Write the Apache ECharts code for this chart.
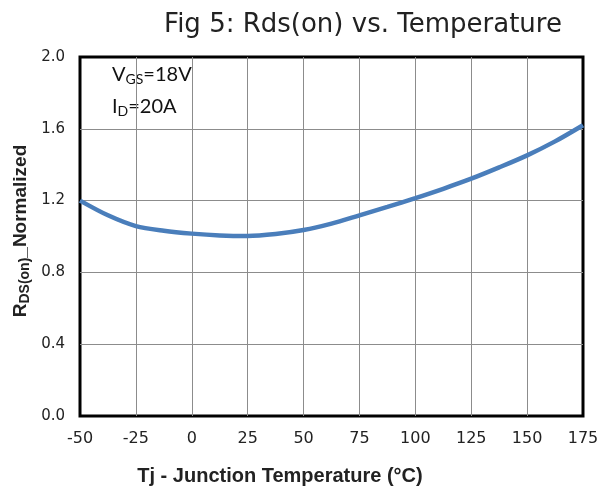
<!DOCTYPE html>
<html><head><meta charset="utf-8">
<script src="https://cdn.jsdelivr.net/npm/echarts@6/dist/echarts.min.js"></script>
<style>html,body{margin:0;padding:0;background:#fff}#c{width:603px;height:486px}</style>
</head><body><div id="c"></div>
<script>
const temps = [-50, -37.5, -25, -12.5, 0, 12.5, 25, 37.5, 50, 62.5, 75, 87.5, 100, 112.5, 125, 137.5, 150, 162.5, 175];
const rdsNorm = [1.2, 1.118, 1.058, 1.032, 1.016, 1.006, 1.003, 1.014, 1.036, 1.072, 1.118, 1.165, 1.214, 1.266, 1.322, 1.385, 1.452, 1.53, 1.62];
const titleText = 'Fig 5: Rds(on) vs. Temperature';
const xTitle = 'Tj - Junction Temperature (°C)';

const chart = echarts.init(document.getElementById('c'), null, {renderer: 'canvas'});
chart.setOption({
  animation: false,
  backgroundColor: '#fff',
  title: {
    text: titleText, left: 358, top: 7, textAlign: 'center',
    textStyle: {fontFamily: 'DejaVu Sans', fontSize: 26, fontWeight: 'normal', color: '#222'}
  },
  grid: {left: 80, right: 20, top: 57, bottom: 70, show: true, borderColor: '#000', borderWidth: 3, backgroundColor: 'transparent'},
  xAxis: {
    type: 'value', min: -50, max: 175, interval: 25,
    axisLine: {show: false}, axisTick: {show: false},
    axisLabel: {margin: 15, fontFamily: 'DejaVu Sans', fontSize: 16, color: '#222'},
    splitLine: {show: true, showMinLine: false, showMaxLine: false, lineStyle: {color: '#8c8c8c', width: 1}}
  },
  yAxis: {
    type: 'value', min: 0, max: 2.0, interval: 0.4,
    axisLine: {show: false}, axisTick: {show: false},
    axisLabel: {margin: 15, formatter: v => v.toFixed(1), fontFamily: 'DejaVu Sans', fontSize: 15, color: '#222'},
    splitLine: {show: true, showMinLine: false, showMaxLine: false, lineStyle: {color: '#8c8c8c', width: 1}}
  },
  series: [{
    type: 'line', data: temps.map((t, i) => [t, rdsNorm[i]]), smooth: 0.3,
    showSymbol: false, lineStyle: {color: '#4a7ebb', width: 4.5}, z: 5
  }],
  graphic: [
    {type: 'text', x: 280, y: 476,
     style: {text: xTitle, font: 'bold 20px "Liberation Sans"', fill: '#222', textAlign: 'center', textVerticalAlign: 'middle'}},
    {type: 'text', x: 21, y: 231, rotation: Math.PI / 2,
     style: {text: '{b|R}{s|DS(on)}{b|_Normalized}', fill: '#222', textAlign: 'center', textVerticalAlign: 'middle',
       rich: {b: {font: 'bold 19px "Liberation Sans"', fill: '#222'}, s: {font: 'bold 14px "Liberation Sans"', fill: '#222', padding: [8, 0, 0, 0]}}}},
    {type: 'text', x: 112, y: 64,
     style: {text: '{n|V}{s|GS}{n|=18V}', rich: {n: {font: '20px "Lato"', fill: '#111'}, s: {font: '14px "Lato"', fill: '#111', padding: [8, 0, 0, 0]}}}},
    {type: 'text', x: 112, y: 96,
     style: {text: '{n|I}{s|D}{n|=20A}', rich: {n: {font: '20px "Lato"', fill: '#111'}, s: {font: '14px "Lato"', fill: '#111', padding: [8, 0, 0, 0]}}}}
  ]
});
</script></body></html>
